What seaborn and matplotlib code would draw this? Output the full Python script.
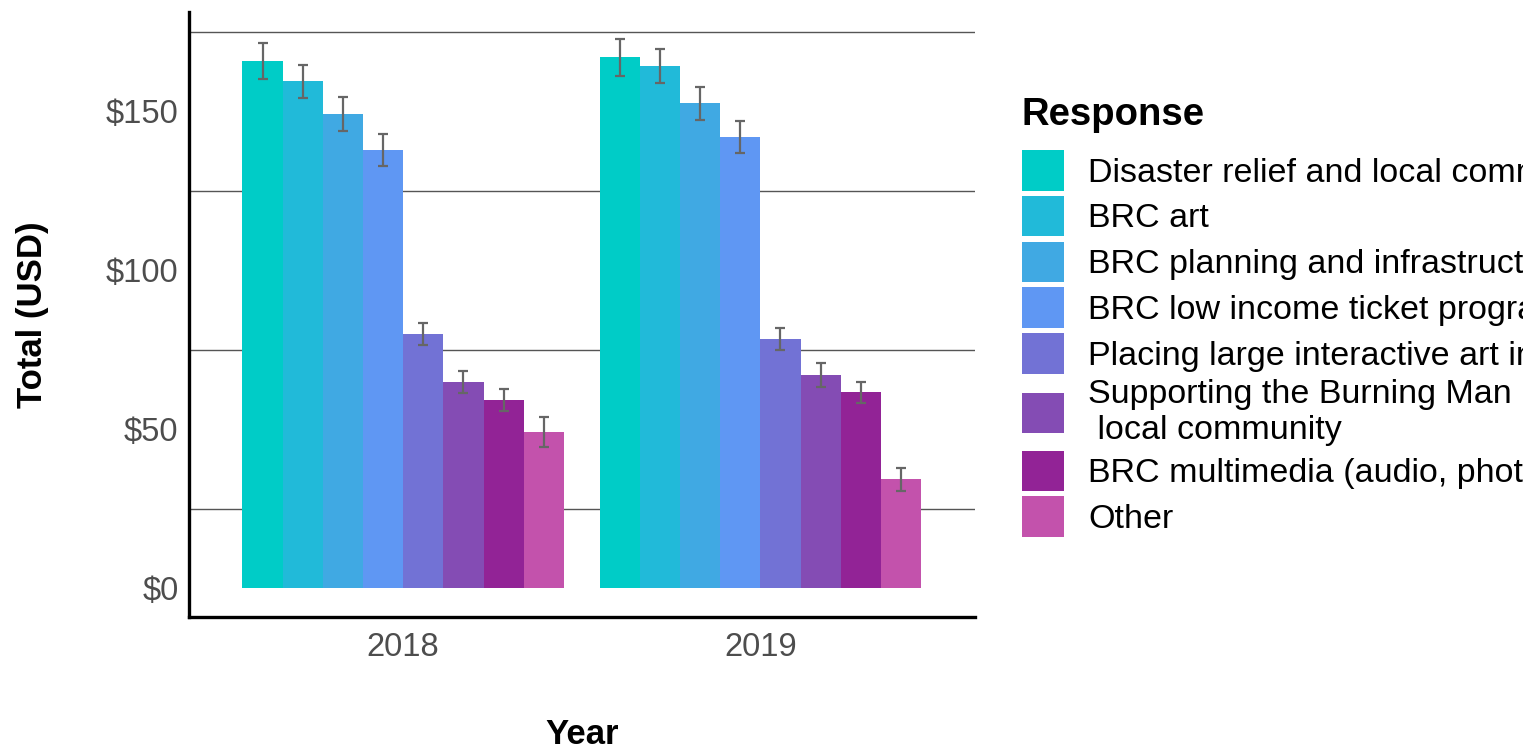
import numpy as np
import pandas as pd
import matplotlib
matplotlib.use("Agg")
import matplotlib.pyplot as plt
from matplotlib.patches import Patch
from matplotlib.ticker import FuncFormatter
import seaborn as sns

# Donation allocation totals by response and year
years = ["2018", "2019"]
responses = [
    "Disaster relief and local communities",
    "BRC art",
    "BRC planning and infrastructure",
    "BRC low income ticket program",
    "Placing large interactive art in public spaces",
    "Supporting the Burning Man Regional Network in the\n local community",
    "BRC multimedia (audio, photo, video)",
    "Other",
]
total_2018 = [165.7, 159.4, 149.1, 137.7, 79.9, 64.8, 59.1, 49.1]
total_2019 = [167.0, 164.2, 152.5, 141.8, 78.3, 67.0, 61.6, 34.3]
se_2018 = [5.7, 5.1, 5.3, 5.0, 3.5, 3.5, 3.4, 4.7]
se_2019 = [5.8, 5.3, 5.2, 5.0, 3.5, 3.7, 3.4, 3.6]
colors = ["#00CCC7", "#21BAD9", "#40A9E3", "#5F97F3",
          "#7272D5", "#844CB4", "#922396", "#C352AC"]

df = pd.DataFrame({
    "Year": [years[0]] * 8 + [years[1]] * 8,
    "Response": responses * 2,
    "Total": total_2018 + total_2019,
    "SE": se_2018 + se_2019,
})

sns.set_style("white")
plt.rcParams["font.family"] = ["Liberation Sans", "DejaVu Sans"]
plt.rcParams["text.color"] = "black"
plt.rcParams["axes.labelcolor"] = "black"

fig = plt.figure(figsize=(15.23, 7.49), dpi=100)
ax = fig.add_axes([0.124, 0.176, 0.516, 0.808])

sns.barplot(data=df, x="Year", y="Total", hue="Response", hue_order=responses,
            order=years, palette=colors, width=0.9, errorbar=None,
            saturation=1, linewidth=0, ax=ax)

# error bars at the centres of the drawn bars
for resp, cont in zip(responses, ax.containers):
    sub = df[df["Response"] == resp].set_index("Year").loc[years]
    xs = [b.get_x() + b.get_width() / 2 for b in cont]
    ax.errorbar(xs, sub["Total"].values, yerr=sub["SE"].values, fmt="none",
                ecolor="#666666", elinewidth=1.6, capsize=3.3, capthick=1.6,
                zorder=3)

ax.set_xlim(-0.6, 1.6)
ax.set_ylim(-9.1, 181.2)
ax.set_yticks([0, 50, 100, 150])
ax.set_yticks([25, 75, 125, 175], minor=True)
ax.yaxis.set_major_formatter(FuncFormatter(lambda v, p: f"${v:.0f}"))
ax.grid(False)
ax.grid(which="minor", axis="y", color="#555555", linewidth=1.0)
ax.set_axisbelow(True)

for s in ["top", "right"]:
    ax.spines[s].set_visible(False)
for s in ["left", "bottom"]:
    ax.spines[s].set_color("black")
    ax.spines[s].set_linewidth(2.4)

ax.tick_params(which="major", axis="both", length=4.5, width=1.2,
               color="#333333", labelcolor="#4D4D4D", labelsize=23.5, pad=3)
ax.tick_params(which="minor", length=0)
ax.tick_params(axis="x", pad=6)

ax.set_xlabel("Year", fontsize=25, fontweight="bold", labelpad=40)
ax.set_ylabel("Total (USD)", fontsize=25, fontweight="bold", labelpad=41)

handles = [Patch(facecolor=c, edgecolor="none") for c in colors]
leg = ax.legend(handles, responses, title="Response", loc="upper left",
                bbox_to_anchor=(0.671, 0.870), bbox_transform=fig.transFigure,
                frameon=False, fontsize=24.5, alignment="left",
                title_fontproperties={"weight": "bold", "size": 27.5},
                handlelength=1.25, handleheight=1.46, handletextpad=0.7,
                labelspacing=0.15, borderpad=0, borderaxespad=0)
leg._legend_box.sep = 12

fig.savefig("out.png", dpi=100)
